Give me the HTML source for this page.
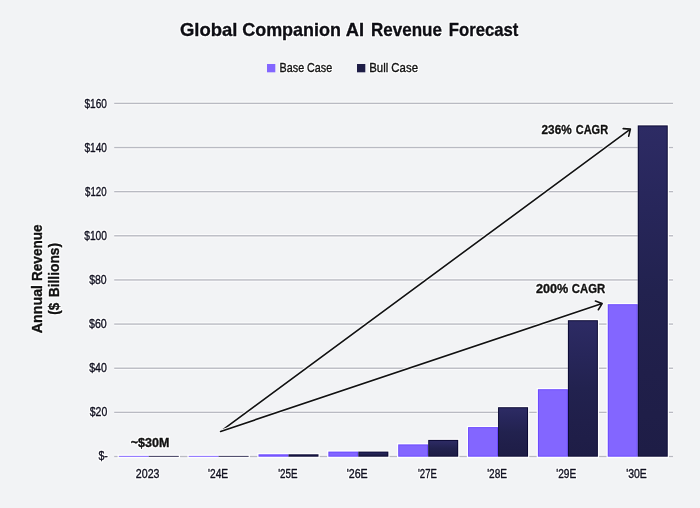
<!DOCTYPE html>
<html><head><meta charset="utf-8"><title>Global Companion AI Revenue Forecast</title><style>
html,body{margin:0;padding:0;background:#f2f3f5;width:700px;height:508px;overflow:hidden;}
svg{display:block;font-family:"Liberation Sans",sans-serif;will-change:transform;}
</style></head><body>
<svg width="700" height="508" viewBox="0 0 700 508">
<defs><linearGradient id="bg" x1="0" y1="0" x2="0" y2="1"><stop offset="0" stop-color="#2d2b64"/><stop offset="0.25" stop-color="#27265a"/><stop offset="0.5" stop-color="#22224f"/><stop offset="0.75" stop-color="#201f4a"/><stop offset="1" stop-color="#1e1d46"/></linearGradient></defs>
<rect width="700" height="508" fill="#f2f3f5"/>
<rect x="114.2" y="454.80" width="558.80" height="3.40" fill="#fcfcfd"/>
<rect x="114.2" y="455.80" width="558.80" height="1.4" fill="#b9bac2"/>
<rect x="114.2" y="410.66" width="558.80" height="3.40" fill="#fcfcfd"/>
<rect x="114.2" y="411.66" width="558.80" height="1.4" fill="#b9bac2"/>
<rect x="114.2" y="366.52" width="558.80" height="3.40" fill="#fcfcfd"/>
<rect x="114.2" y="367.52" width="558.80" height="1.4" fill="#b9bac2"/>
<rect x="114.2" y="322.38" width="558.80" height="3.40" fill="#fcfcfd"/>
<rect x="114.2" y="323.38" width="558.80" height="1.4" fill="#b9bac2"/>
<rect x="114.2" y="278.24" width="558.80" height="3.40" fill="#fcfcfd"/>
<rect x="114.2" y="279.24" width="558.80" height="1.4" fill="#b9bac2"/>
<rect x="114.2" y="234.10" width="558.80" height="3.40" fill="#fcfcfd"/>
<rect x="114.2" y="235.10" width="558.80" height="1.4" fill="#b9bac2"/>
<rect x="114.2" y="189.96" width="558.80" height="3.40" fill="#fcfcfd"/>
<rect x="114.2" y="190.96" width="558.80" height="1.4" fill="#b9bac2"/>
<rect x="114.2" y="145.82" width="558.80" height="3.40" fill="#fcfcfd"/>
<rect x="114.2" y="146.82" width="558.80" height="1.4" fill="#b9bac2"/>
<rect x="114.2" y="101.68" width="558.80" height="3.40" fill="#fcfcfd"/>
<rect x="114.2" y="102.68" width="558.80" height="1.4" fill="#b9bac2"/>
<rect x="117.60" y="454.70" width="31.20" height="3.20" fill="#ffffff"/>
<rect x="148.80" y="454.70" width="31.20" height="3.20" fill="#ffffff"/>
<rect x="187.45" y="454.70" width="31.20" height="3.20" fill="#ffffff"/>
<rect x="218.65" y="454.70" width="31.20" height="3.20" fill="#ffffff"/>
<rect x="257.30" y="453.10" width="31.20" height="4.80" fill="#ffffff"/>
<rect x="288.50" y="453.10" width="31.20" height="4.80" fill="#ffffff"/>
<rect x="327.15" y="450.40" width="31.20" height="7.50" fill="#ffffff"/>
<rect x="358.35" y="450.40" width="31.20" height="7.50" fill="#ffffff"/>
<rect x="397.00" y="443.20" width="31.20" height="14.70" fill="#ffffff"/>
<rect x="428.20" y="438.70" width="31.20" height="19.20" fill="#ffffff"/>
<rect x="466.85" y="425.90" width="31.20" height="32.00" fill="#ffffff"/>
<rect x="498.05" y="406.00" width="31.20" height="51.90" fill="#ffffff"/>
<rect x="536.70" y="388.00" width="31.20" height="69.90" fill="#ffffff"/>
<rect x="567.90" y="319.00" width="31.20" height="138.90" fill="#ffffff"/>
<rect x="606.55" y="303.00" width="31.20" height="154.90" fill="#ffffff"/>
<rect x="637.75" y="124.20" width="31.20" height="333.70" fill="#ffffff"/>
<rect x="118.80" y="455.90" width="30.00" height="0.80" fill="#6a48ff"/>
<rect x="148.80" y="455.90" width="30.00" height="0.80" fill="#0a0834"/>
<rect x="188.65" y="455.90" width="30.00" height="0.80" fill="#6a48ff"/>
<rect x="218.65" y="455.90" width="30.00" height="0.80" fill="#0a0834"/>
<rect x="258.50" y="454.30" width="30.00" height="2.40" fill="#6a48ff"/>
<rect x="288.50" y="454.30" width="30.00" height="2.40" fill="#0a0834"/>
<rect x="259.50" y="455.30" width="28.00" height="0.40" fill="#8366ff"/>
<rect x="289.50" y="455.30" width="28.00" height="0.40" fill="url(#bg)"/>
<rect x="328.35" y="451.60" width="30.00" height="5.10" fill="#6a48ff"/>
<rect x="358.35" y="451.60" width="30.00" height="5.10" fill="#0a0834"/>
<rect x="329.35" y="452.60" width="28.00" height="3.10" fill="#8366ff"/>
<rect x="359.35" y="452.60" width="28.00" height="3.10" fill="url(#bg)"/>
<rect x="398.20" y="444.40" width="30.00" height="12.30" fill="#6a48ff"/>
<rect x="428.20" y="439.90" width="30.00" height="16.80" fill="#0a0834"/>
<rect x="399.20" y="445.40" width="28.00" height="10.30" fill="#8366ff"/>
<rect x="429.20" y="440.90" width="28.00" height="14.80" fill="url(#bg)"/>
<rect x="468.05" y="427.10" width="30.00" height="29.60" fill="#6a48ff"/>
<rect x="498.05" y="407.20" width="30.00" height="49.50" fill="#0a0834"/>
<rect x="469.05" y="428.10" width="28.00" height="27.60" fill="#8366ff"/>
<rect x="499.05" y="408.20" width="28.00" height="47.50" fill="url(#bg)"/>
<rect x="537.90" y="389.20" width="30.00" height="67.50" fill="#6a48ff"/>
<rect x="567.90" y="320.20" width="30.00" height="136.50" fill="#0a0834"/>
<rect x="538.90" y="390.20" width="28.00" height="65.50" fill="#8366ff"/>
<rect x="568.90" y="321.20" width="28.00" height="134.50" fill="url(#bg)"/>
<rect x="607.75" y="304.20" width="30.00" height="152.50" fill="#6a48ff"/>
<rect x="637.75" y="125.40" width="30.00" height="331.30" fill="#0a0834"/>
<rect x="608.75" y="305.20" width="28.00" height="150.50" fill="#8366ff"/>
<rect x="638.75" y="126.40" width="28.00" height="329.30" fill="url(#bg)"/>
<rect x="267" y="64" width="8.3" height="8.3" fill="#8366ff"/>
<rect x="357" y="64" width="8.3" height="8.3" fill="#1e1d46"/>
<path d="M220.60,431.40 L630.40,129.10 M623.21,128.65 L630.40,129.10 L628.71,136.10" fill="none" stroke="#f7f8fa" stroke-width="3.6" stroke-linecap="round" stroke-linejoin="round"/><path d="M220.60,431.40 L630.40,129.10 M623.21,128.65 L630.40,129.10 L628.71,136.10" fill="none" stroke="#111111" stroke-width="1.6" stroke-linecap="round" stroke-linejoin="round"/>
<path d="M220.60,431.40 L602.10,303.60 M595.40,300.96 L602.10,303.60 L598.34,309.74" fill="none" stroke="#f7f8fa" stroke-width="3.6" stroke-linecap="round" stroke-linejoin="round"/><path d="M220.60,431.40 L602.10,303.60 M595.40,300.96 L602.10,303.60 L598.34,309.74" fill="none" stroke="#111111" stroke-width="1.6" stroke-linecap="round" stroke-linejoin="round"/>
<text x="179.90" y="36.20" font-family="Liberation Sans" font-weight="bold" font-size="19" fill="#ffffff" stroke="#ffffff" stroke-width="2.8" stroke-linejoin="round" textLength="57.47" lengthAdjust="spacingAndGlyphs">Global</text>
<text x="179.90" y="36.20" font-family="Liberation Sans" font-weight="bold" font-size="19" fill="#0e0e14" stroke="#0e0e14" stroke-width="0.35" textLength="57.47" lengthAdjust="spacingAndGlyphs">Global</text>
<text x="242.20" y="36.20" font-family="Liberation Sans" font-weight="bold" font-size="19" fill="#ffffff" stroke="#ffffff" stroke-width="2.8" stroke-linejoin="round" textLength="98.82" lengthAdjust="spacingAndGlyphs">Companion</text>
<text x="242.20" y="36.20" font-family="Liberation Sans" font-weight="bold" font-size="19" fill="#0e0e14" stroke="#0e0e14" stroke-width="0.35" textLength="98.82" lengthAdjust="spacingAndGlyphs">Companion</text>
<text x="345.80" y="36.20" font-family="Liberation Sans" font-weight="bold" font-size="19" fill="#ffffff" stroke="#ffffff" stroke-width="2.8" stroke-linejoin="round" textLength="18.32" lengthAdjust="spacingAndGlyphs">AI</text>
<text x="345.80" y="36.20" font-family="Liberation Sans" font-weight="bold" font-size="19" fill="#0e0e14" stroke="#0e0e14" stroke-width="0.35" textLength="18.32" lengthAdjust="spacingAndGlyphs">AI</text>
<text x="371.10" y="36.20" font-family="Liberation Sans" font-weight="bold" font-size="19" fill="#ffffff" stroke="#ffffff" stroke-width="2.8" stroke-linejoin="round" textLength="70.82" lengthAdjust="spacingAndGlyphs">Revenue</text>
<text x="371.10" y="36.20" font-family="Liberation Sans" font-weight="bold" font-size="19" fill="#0e0e14" stroke="#0e0e14" stroke-width="0.35" textLength="70.82" lengthAdjust="spacingAndGlyphs">Revenue</text>
<text x="448.80" y="36.20" font-family="Liberation Sans" font-weight="bold" font-size="19" fill="#ffffff" stroke="#ffffff" stroke-width="2.8" stroke-linejoin="round" textLength="69.61" lengthAdjust="spacingAndGlyphs">Forecast</text>
<text x="448.80" y="36.20" font-family="Liberation Sans" font-weight="bold" font-size="19" fill="#0e0e14" stroke="#0e0e14" stroke-width="0.35" textLength="69.61" lengthAdjust="spacingAndGlyphs">Forecast</text>
<text x="279.60" y="72.20" font-family="Liberation Sans" font-weight="normal" font-size="13" fill="#ffffff" stroke="#ffffff" stroke-width="2.8" stroke-linejoin="round" textLength="52.61" lengthAdjust="spacingAndGlyphs">Base Case</text>
<text x="279.60" y="72.20" font-family="Liberation Sans" font-weight="normal" font-size="13" fill="#111111" stroke="#111111" stroke-width="0.35" textLength="52.61" lengthAdjust="spacingAndGlyphs">Base Case</text>
<text x="369.20" y="72.20" font-family="Liberation Sans" font-weight="normal" font-size="13" fill="#ffffff" stroke="#ffffff" stroke-width="2.8" stroke-linejoin="round" textLength="48.79" lengthAdjust="spacingAndGlyphs">Bull Case</text>
<text x="369.20" y="72.20" font-family="Liberation Sans" font-weight="normal" font-size="13" fill="#111111" stroke="#111111" stroke-width="0.35" textLength="48.79" lengthAdjust="spacingAndGlyphs">Bull Case</text>
<text x="98.50" y="460.30" font-family="Liberation Sans" font-weight="normal" font-size="12" fill="#ffffff" stroke="#ffffff" stroke-width="2.8" stroke-linejoin="round" textLength="9.37" lengthAdjust="spacingAndGlyphs">$-</text>
<text x="98.50" y="460.30" font-family="Liberation Sans" font-weight="normal" font-size="12" fill="#101020" stroke="#101020" stroke-width="0.35" textLength="9.37" lengthAdjust="spacingAndGlyphs">$-</text>
<text x="89.80" y="416.20" font-family="Liberation Sans" font-weight="normal" font-size="12" fill="#ffffff" stroke="#ffffff" stroke-width="2.8" stroke-linejoin="round" textLength="17.46" lengthAdjust="spacingAndGlyphs">$20</text>
<text x="89.80" y="416.20" font-family="Liberation Sans" font-weight="normal" font-size="12" fill="#101020" stroke="#101020" stroke-width="0.35" textLength="17.46" lengthAdjust="spacingAndGlyphs">$20</text>
<text x="89.20" y="372.10" font-family="Liberation Sans" font-weight="normal" font-size="12" fill="#ffffff" stroke="#ffffff" stroke-width="2.8" stroke-linejoin="round" textLength="17.65" lengthAdjust="spacingAndGlyphs">$40</text>
<text x="89.20" y="372.10" font-family="Liberation Sans" font-weight="normal" font-size="12" fill="#101020" stroke="#101020" stroke-width="0.35" textLength="17.65" lengthAdjust="spacingAndGlyphs">$40</text>
<text x="89.00" y="328.00" font-family="Liberation Sans" font-weight="normal" font-size="12" fill="#ffffff" stroke="#ffffff" stroke-width="2.8" stroke-linejoin="round" textLength="17.76" lengthAdjust="spacingAndGlyphs">$60</text>
<text x="89.00" y="328.00" font-family="Liberation Sans" font-weight="normal" font-size="12" fill="#101020" stroke="#101020" stroke-width="0.35" textLength="17.76" lengthAdjust="spacingAndGlyphs">$60</text>
<text x="89.20" y="283.90" font-family="Liberation Sans" font-weight="normal" font-size="12" fill="#ffffff" stroke="#ffffff" stroke-width="2.8" stroke-linejoin="round" textLength="17.47" lengthAdjust="spacingAndGlyphs">$80</text>
<text x="89.20" y="283.90" font-family="Liberation Sans" font-weight="normal" font-size="12" fill="#101020" stroke="#101020" stroke-width="0.35" textLength="17.47" lengthAdjust="spacingAndGlyphs">$80</text>
<text x="84.20" y="239.80" font-family="Liberation Sans" font-weight="normal" font-size="12" fill="#ffffff" stroke="#ffffff" stroke-width="2.8" stroke-linejoin="round" textLength="22.85" lengthAdjust="spacingAndGlyphs">$100</text>
<text x="84.20" y="239.80" font-family="Liberation Sans" font-weight="normal" font-size="12" fill="#101020" stroke="#101020" stroke-width="0.35" textLength="22.85" lengthAdjust="spacingAndGlyphs">$100</text>
<text x="85.10" y="195.70" font-family="Liberation Sans" font-weight="normal" font-size="12" fill="#ffffff" stroke="#ffffff" stroke-width="2.8" stroke-linejoin="round" textLength="21.51" lengthAdjust="spacingAndGlyphs">$120</text>
<text x="85.10" y="195.70" font-family="Liberation Sans" font-weight="normal" font-size="12" fill="#101020" stroke="#101020" stroke-width="0.35" textLength="21.51" lengthAdjust="spacingAndGlyphs">$120</text>
<text x="84.50" y="151.60" font-family="Liberation Sans" font-weight="normal" font-size="12" fill="#ffffff" stroke="#ffffff" stroke-width="2.8" stroke-linejoin="round" textLength="22.49" lengthAdjust="spacingAndGlyphs">$140</text>
<text x="84.50" y="151.60" font-family="Liberation Sans" font-weight="normal" font-size="12" fill="#101020" stroke="#101020" stroke-width="0.35" textLength="22.49" lengthAdjust="spacingAndGlyphs">$140</text>
<text x="84.50" y="107.50" font-family="Liberation Sans" font-weight="normal" font-size="12" fill="#ffffff" stroke="#ffffff" stroke-width="2.8" stroke-linejoin="round" textLength="22.49" lengthAdjust="spacingAndGlyphs">$160</text>
<text x="84.50" y="107.50" font-family="Liberation Sans" font-weight="normal" font-size="12" fill="#101020" stroke="#101020" stroke-width="0.35" textLength="22.49" lengthAdjust="spacingAndGlyphs">$160</text>
<text x="135.80" y="477.70" font-family="Liberation Sans" font-weight="normal" font-size="12" fill="#ffffff" stroke="#ffffff" stroke-width="2.8" stroke-linejoin="round" textLength="23.67" lengthAdjust="spacingAndGlyphs">2023</text>
<text x="135.80" y="477.70" font-family="Liberation Sans" font-weight="normal" font-size="12" fill="#101020" stroke="#101020" stroke-width="0.35" textLength="23.67" lengthAdjust="spacingAndGlyphs">2023</text>
<text x="208.10" y="477.70" font-family="Liberation Sans" font-weight="normal" font-size="12" fill="#ffffff" stroke="#ffffff" stroke-width="2.8" stroke-linejoin="round" textLength="20.05" lengthAdjust="spacingAndGlyphs">'24E</text>
<text x="208.10" y="477.70" font-family="Liberation Sans" font-weight="normal" font-size="12" fill="#101020" stroke="#101020" stroke-width="0.35" textLength="20.05" lengthAdjust="spacingAndGlyphs">'24E</text>
<text x="278.20" y="477.70" font-family="Liberation Sans" font-weight="normal" font-size="12" fill="#ffffff" stroke="#ffffff" stroke-width="2.8" stroke-linejoin="round" textLength="19.36" lengthAdjust="spacingAndGlyphs">'25E</text>
<text x="278.20" y="477.70" font-family="Liberation Sans" font-weight="normal" font-size="12" fill="#101020" stroke="#101020" stroke-width="0.35" textLength="19.36" lengthAdjust="spacingAndGlyphs">'25E</text>
<text x="346.70" y="477.70" font-family="Liberation Sans" font-weight="normal" font-size="12" fill="#ffffff" stroke="#ffffff" stroke-width="2.8" stroke-linejoin="round" textLength="21.04" lengthAdjust="spacingAndGlyphs">'26E</text>
<text x="346.70" y="477.70" font-family="Liberation Sans" font-weight="normal" font-size="12" fill="#101020" stroke="#101020" stroke-width="0.35" textLength="21.04" lengthAdjust="spacingAndGlyphs">'26E</text>
<text x="418.00" y="477.70" font-family="Liberation Sans" font-weight="normal" font-size="12" fill="#ffffff" stroke="#ffffff" stroke-width="2.8" stroke-linejoin="round" textLength="18.83" lengthAdjust="spacingAndGlyphs">'27E</text>
<text x="418.00" y="477.70" font-family="Liberation Sans" font-weight="normal" font-size="12" fill="#101020" stroke="#101020" stroke-width="0.35" textLength="18.83" lengthAdjust="spacingAndGlyphs">'27E</text>
<text x="487.20" y="477.70" font-family="Liberation Sans" font-weight="normal" font-size="12" fill="#ffffff" stroke="#ffffff" stroke-width="2.8" stroke-linejoin="round" textLength="19.87" lengthAdjust="spacingAndGlyphs">'28E</text>
<text x="487.20" y="477.70" font-family="Liberation Sans" font-weight="normal" font-size="12" fill="#101020" stroke="#101020" stroke-width="0.35" textLength="19.87" lengthAdjust="spacingAndGlyphs">'28E</text>
<text x="556.30" y="477.70" font-family="Liberation Sans" font-weight="normal" font-size="12" fill="#ffffff" stroke="#ffffff" stroke-width="2.8" stroke-linejoin="round" textLength="19.94" lengthAdjust="spacingAndGlyphs">'29E</text>
<text x="556.30" y="477.70" font-family="Liberation Sans" font-weight="normal" font-size="12" fill="#101020" stroke="#101020" stroke-width="0.35" textLength="19.94" lengthAdjust="spacingAndGlyphs">'29E</text>
<text x="626.20" y="477.70" font-family="Liberation Sans" font-weight="normal" font-size="12" fill="#ffffff" stroke="#ffffff" stroke-width="2.8" stroke-linejoin="round" textLength="20.61" lengthAdjust="spacingAndGlyphs">'30E</text>
<text x="626.20" y="477.70" font-family="Liberation Sans" font-weight="normal" font-size="12" fill="#101020" stroke="#101020" stroke-width="0.35" textLength="20.61" lengthAdjust="spacingAndGlyphs">'30E</text>
<text x="130.80" y="446.90" font-family="Liberation Sans" font-weight="bold" font-size="12" fill="#ffffff" stroke="#ffffff" stroke-width="2.8" stroke-linejoin="round" textLength="38.52" lengthAdjust="spacingAndGlyphs">~$30M</text>
<text x="130.80" y="446.90" font-family="Liberation Sans" font-weight="bold" font-size="12" fill="#111111" stroke="#111111" stroke-width="0.35" textLength="38.52" lengthAdjust="spacingAndGlyphs">~$30M</text>
<text x="541.60" y="134.30" font-family="Liberation Sans" font-weight="bold" font-size="13" fill="#ffffff" stroke="#ffffff" stroke-width="2.8" stroke-linejoin="round" textLength="30.03" lengthAdjust="spacingAndGlyphs">236%</text>
<text x="541.60" y="134.30" font-family="Liberation Sans" font-weight="bold" font-size="13" fill="#111111" stroke="#111111" stroke-width="0.35" textLength="30.03" lengthAdjust="spacingAndGlyphs">236%</text>
<text x="575.70" y="134.30" font-family="Liberation Sans" font-weight="bold" font-size="13" fill="#ffffff" stroke="#ffffff" stroke-width="2.8" stroke-linejoin="round" textLength="32.42" lengthAdjust="spacingAndGlyphs">CAGR</text>
<text x="575.70" y="134.30" font-family="Liberation Sans" font-weight="bold" font-size="13" fill="#111111" stroke="#111111" stroke-width="0.35" textLength="32.42" lengthAdjust="spacingAndGlyphs">CAGR</text>
<text x="535.90" y="293.00" font-family="Liberation Sans" font-weight="bold" font-size="13" fill="#ffffff" stroke="#ffffff" stroke-width="2.8" stroke-linejoin="round" textLength="32.24" lengthAdjust="spacingAndGlyphs">200%</text>
<text x="535.90" y="293.00" font-family="Liberation Sans" font-weight="bold" font-size="13" fill="#111111" stroke="#111111" stroke-width="0.35" textLength="32.24" lengthAdjust="spacingAndGlyphs">200%</text>
<text x="571.80" y="293.00" font-family="Liberation Sans" font-weight="bold" font-size="13" fill="#ffffff" stroke="#ffffff" stroke-width="2.8" stroke-linejoin="round" textLength="33.43" lengthAdjust="spacingAndGlyphs">CAGR</text>
<text x="571.80" y="293.00" font-family="Liberation Sans" font-weight="bold" font-size="13" fill="#111111" stroke="#111111" stroke-width="0.35" textLength="33.43" lengthAdjust="spacingAndGlyphs">CAGR</text>
<text transform="translate(41.90,333.20) rotate(-90)" x="0" y="0" font-family="Liberation Sans" font-weight="bold" font-size="15.5" fill="#ffffff" stroke="#ffffff" stroke-width="2.8" stroke-linejoin="round" textLength="48.21" lengthAdjust="spacingAndGlyphs">Annual</text>
<text transform="translate(41.90,333.20) rotate(-90)" x="0" y="0" font-family="Liberation Sans" font-weight="bold" font-size="15.5" fill="#111111" stroke="#111111" stroke-width="0.35" textLength="48.21" lengthAdjust="spacingAndGlyphs">Annual</text>
<text transform="translate(41.90,281.00) rotate(-90)" x="0" y="0" font-family="Liberation Sans" font-weight="bold" font-size="15.5" fill="#ffffff" stroke="#ffffff" stroke-width="2.8" stroke-linejoin="round" textLength="56.64" lengthAdjust="spacingAndGlyphs">Revenue</text>
<text transform="translate(41.90,281.00) rotate(-90)" x="0" y="0" font-family="Liberation Sans" font-weight="bold" font-size="15.5" fill="#111111" stroke="#111111" stroke-width="0.35" textLength="56.64" lengthAdjust="spacingAndGlyphs">Revenue</text>
<text transform="translate(59.40,314.70) rotate(-90)" x="0" y="0" font-family="Liberation Sans" font-weight="bold" font-size="15.5" fill="#ffffff" stroke="#ffffff" stroke-width="2.8" stroke-linejoin="round" textLength="11.92" lengthAdjust="spacingAndGlyphs">($</text>
<text transform="translate(59.40,314.70) rotate(-90)" x="0" y="0" font-family="Liberation Sans" font-weight="bold" font-size="15.5" fill="#111111" stroke="#111111" stroke-width="0.35" textLength="11.92" lengthAdjust="spacingAndGlyphs">($</text>
<text transform="translate(59.40,297.30) rotate(-90)" x="0" y="0" font-family="Liberation Sans" font-weight="bold" font-size="15.5" fill="#ffffff" stroke="#ffffff" stroke-width="2.8" stroke-linejoin="round" textLength="54.44" lengthAdjust="spacingAndGlyphs">Billions)</text>
<text transform="translate(59.40,297.30) rotate(-90)" x="0" y="0" font-family="Liberation Sans" font-weight="bold" font-size="15.5" fill="#111111" stroke="#111111" stroke-width="0.35" textLength="54.44" lengthAdjust="spacingAndGlyphs">Billions)</text>
</svg>
</body></html>
